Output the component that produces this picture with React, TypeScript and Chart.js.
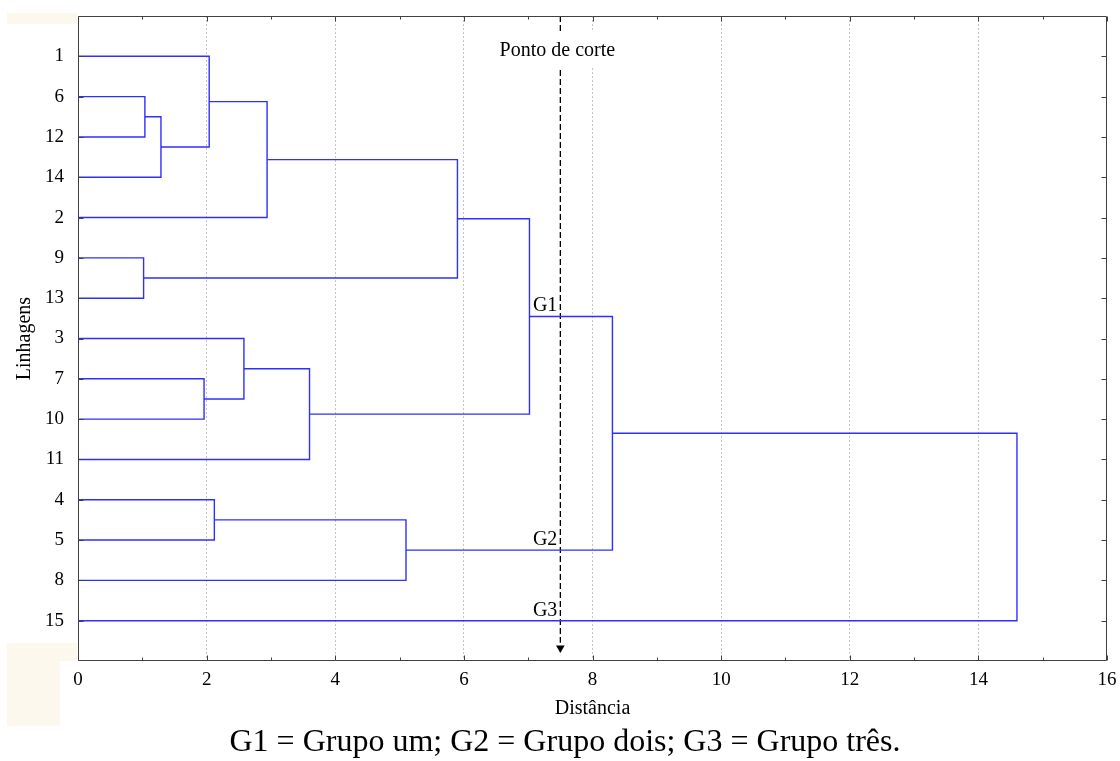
import React, { useEffect, useRef } from 'react';
import { Chart, registerables } from 'chart.js';

Chart.register(...registerables);

// Leaf order (top to bottom) of the dendrogram
const leaves = ['1', '6', '12', '14', '2', '9', '13', '3', '7', '10', '11', '4', '5', '8', '15'];
// Agglomeration steps: child ids (0..14 are leaves, 15+k is the k-th merge) and joining distance
const mergeLeft = [1, 5, 8, 15, 0, 11, 7, 19, 21, 20, 22, 25, 26, 27];
const mergeRight = [2, 6, 9, 3, 18, 12, 17, 4, 10, 13, 16, 23, 24, 14];
const mergeHeight = [1.04, 1.02, 1.96, 1.29, 2.04, 2.12, 2.58, 2.94, 3.6, 5.1, 5.9, 7.02, 8.31, 14.6];
// Group annotations (node ids) and cut point
const groupNames = ['G1', 'G2', 'G3'];
const groupNodes = [26, 24, 14];
const cutDistance = [7.5];
const cutLabel = 'Ponto de corte';
const xTickValues = [0, 2, 4, 6, 8, 10, 12, 14, 16];
const xMinorValues = [1, 3, 5, 7, 9, 11, 13, 15];

const LINE = '#2f2fff';
const AXIS = '#404040';
const SERIF = '"Liberation Serif", "Times New Roman", serif';

function buildNodes() {
  const ny: number[] = leaves.map((_, i) => i);
  const nh: number[] = leaves.map(() => 0);
  mergeHeight.forEach((h, k) => {
    ny.push((ny[mergeLeft[k]] + ny[mergeRight[k]]) / 2);
    nh.push(h);
  });
  return { ny, nh };
}

export default function App() {
  const ref = useRef<HTMLCanvasElement | null>(null);

  useEffect(() => {
    document.body.style.margin = '0';
    const canvas = ref.current;
    if (!canvas) return;
    const { ny, nh } = buildNodes();

    const datasets: any[] = mergeHeight.map((h, k) => {
      const l = mergeLeft[k];
      const r = mergeRight[k];
      return {
        data: [
          { x: nh[l], y: ny[l] },
          { x: h, y: ny[l] },
          { x: h, y: ny[r] },
          { x: nh[r], y: ny[r] },
        ],
        showLine: true,
        borderColor: LINE,
        borderWidth: 1.4,
        pointRadius: 0,
        tension: 0,
        fill: false,
      };
    });

    datasets.push({
      data: [
        { x: cutDistance[0], y: -1 },
        { x: cutDistance[0], y: 14.55 },
      ],
      showLine: true,
      borderColor: '#000',
      borderWidth: 1.3,
      borderDash: [6, 3],
      pointRadius: 0,
      fill: false,
    });
    datasets.push({
      data: [{ x: cutDistance[0], y: 14.68 }],
      showLine: false,
      pointStyle: 'triangle',
      rotation: 180,
      pointRadius: 5,
      backgroundColor: '#000',
      borderColor: '#000',
      borderWidth: 0,
    });

    const framePlugin = {
      id: 'frame',
      afterDraw(chart: any) {
        const { ctx, chartArea: a, scales } = chart;
        const xs = scales.x;
        const ys = scales.y;
        const L = Math.round(a.left) + 0.5;
        const R = Math.round(a.right) - 0.5;
        const T = Math.round(a.top) + 0.5;
        const B = Math.round(a.bottom) - 0.5;
        ctx.save();
        // cut label with white box
        const cx = xs.getPixelForValue(cutDistance[0]);
        ctx.fillStyle = '#fff';
        ctx.fillRect(cx - 72, 31, 144, 37);
        ctx.fillStyle = '#000';
        ctx.font = `20px ${SERIF}`;
        ctx.textAlign = 'center';
        ctx.textBaseline = 'middle';
        ctx.fillText(cutLabel, cx - 3, 51);
        // group labels
        ctx.font = `20px ${SERIF}`;
        ctx.textAlign = 'right';
        ctx.textBaseline = 'alphabetic';
        groupNames.forEach((g, i) => {
          const py = ys.getPixelForValue(ny[groupNodes[i]]);
          ctx.fillText(g, cx - 3, py - 5);
        });
        // frame
        ctx.strokeStyle = AXIS;
        ctx.lineWidth = 1;
        ctx.beginPath();
        ctx.rect(L, T, R - L, B - T);
        ctx.stroke();
        // inward ticks
        ctx.beginPath();
        leaves.forEach((_, i) => {
          const py = Math.round(ys.getPixelForValue(i)) + 0.5;
          ctx.moveTo(L, py);
          ctx.lineTo(L + 5, py);
          ctx.moveTo(R, py);
          ctx.lineTo(R - 5, py);
        });
        xTickValues.forEach((v) => {
          const px = Math.round(xs.getPixelForValue(v)) + 0.5;
          ctx.moveTo(px, T);
          ctx.lineTo(px, T + 5);
          ctx.moveTo(px, B);
          ctx.lineTo(px, B - 5);
        });
        xMinorValues.forEach((v) => {
          const px = Math.round(xs.getPixelForValue(v)) + 0.5;
          ctx.moveTo(px, T);
          ctx.lineTo(px, T + 3);
          ctx.moveTo(px, B);
          ctx.lineTo(px, B - 3);
        });
        ctx.stroke();
        ctx.restore();
      },
    };

    const chart = new Chart(canvas, {
      type: 'scatter',
      data: { datasets },
      options: {
        animation: false,
        responsive: false,
        events: [],
        layout: { padding: { top: 16, right: 13, left: 0, bottom: 0 } },
        plugins: { legend: { display: false }, tooltip: { enabled: false } },
        scales: {
          x: {
            type: 'linear',
            min: 0,
            max: 16,
            afterBuildTicks: (s: any) => {
              s.ticks = xTickValues.map((v) => ({ value: v }));
            },
            ticks: {
              color: '#000',
              font: { family: SERIF, size: 19 },
              padding: 8,
              maxRotation: 0,
            },
            grid: {
              color: (c: any) =>
                c.tick && (c.tick.value === 0 || c.tick.value === 16) ? 'rgba(0,0,0,0)' : '#c4c4c4',
              lineWidth: 1,
              drawTicks: false,
            },
            border: { display: false, dash: [2, 2] },
            title: {
              display: true,
              text: 'Distância',
              color: '#000',
              font: { family: SERIF, size: 20 },
              padding: { top: 0, bottom: 4 },
            },
            afterFit: (s: any) => {
              s.height = 64;
              s.paddingLeft = 0;
              s.paddingRight = 0;
            },
          },
          y: {
            type: 'linear',
            min: -1,
            max: 15,
            reverse: true,
            afterBuildTicks: (s: any) => {
              s.ticks = leaves.map((_, i) => ({ value: i }));
            },
            ticks: {
              color: '#000',
              font: { family: SERIF, size: 19 },
              padding: 14,
              callback: (v: any) => leaves[v] ?? '',
            },
            grid: { display: false, drawTicks: false },
            border: { display: false },
            title: {
              display: true,
              text: 'Linhagens',
              color: '#000',
              font: { family: SERIF, size: 20 },
              padding: { top: 13, bottom: 0 },
            },
            afterFit: (s: any) => {
              s.width = 78;
              s.paddingTop = 0;
              s.paddingBottom = 0;
            },
          },
        },
      },
      plugins: [framePlugin],
    } as any);

    return () => chart.destroy();
  }, []);

  const beige = '#fdf8ee';
  return (
    <div style={{ position: 'relative', width: 1120, height: 761, background: '#fff', overflow: 'hidden' }}>
      <div style={{ position: 'absolute', left: 7, top: 13, width: 70, height: 11, background: beige }} />
      <div style={{ position: 'absolute', left: 7, top: 643, width: 53, height: 83, background: beige }} />
      <div style={{ position: 'absolute', left: 60, top: 643, width: 17, height: 18, background: beige }} />
      <canvas
        ref={ref}
        width={1120}
        height={725}
        style={{ position: 'absolute', left: 0, top: 0, width: 1120, height: 725 }}
      />
      <div
        style={{
          position: 'absolute',
          left: 10,
          top: 724,
          width: 1110,
          textAlign: 'center',
          fontFamily: SERIF,
          fontSize: 32,
          lineHeight: '32px',
          color: '#000',
          whiteSpace: 'nowrap',
        }}
      >
        G1 = Grupo um; G2 = Grupo dois; G3 = Grupo três.
      </div>
    </div>
  );
}
